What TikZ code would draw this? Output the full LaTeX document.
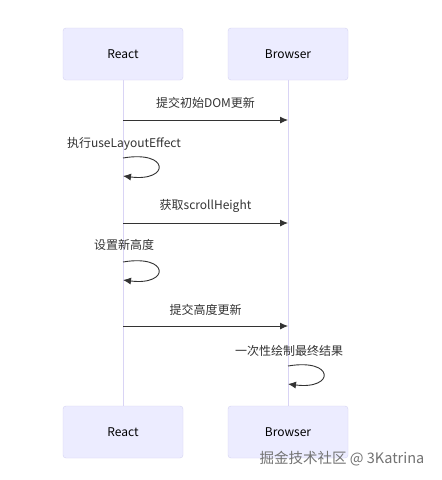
\documentclass[tikz,border=0pt]{standalone}
\usepackage{fontspec}
\setmainfont{Noto Sans CJK SC}
\usetikzlibrary{arrows.meta}
\definecolor{actfill}{HTML}{ECECFF}
\definecolor{actline}{HTML}{D6D3F2}
\definecolor{lifeln}{HTML}{D9D4F5}
\definecolor{msgc}{HTML}{333333}
\tikzset{
  actor/.style={draw=actline, fill=actfill, rounded corners=3pt, minimum width=120pt, minimum height=52pt, inner sep=0pt, font=\fontsize{12}{14}\selectfont, text=black},
  msg/.style={draw=msgc, line width=0.9pt, -{Latex[length=8pt,width=7pt]}},
  lbl/.style={font=\fontsize{12}{14}\selectfont, text=msgc, inner sep=0pt},
  life/.style={draw=lifeln, line width=1pt},
}
\begin{document}
\begin{tikzpicture}[x=1pt,y=-1pt]
\fill[white] (0,0) rectangle (442,480);
\useasboundingbox (0,0) rectangle (442,480);
% lifelines
\coordinate (rt) at (123,80);
\coordinate (rb) at (123,406);
\coordinate (bt) at (288,80);
\coordinate (bb) at (288,406);
\draw[life] (rt) -- (rb);
\draw[life] (bt) -- (bb);
% actors
\node[actor] (r1) at (123,54) {React};
\node[actor] (b1) at (288,54) {Browser};
\node[actor] (r2) at (123,432) {React};
\node[actor] (b2) at (288,432) {Browser};
% message 1
\coordinate (m1a) at (123,120);
\coordinate (m1b) at (288,120);
\draw[msg] (m1a) -- (m1b);
\node[lbl] (l1) at (205.5,103) {提交初始DOM更新};
% self loop 1
\coordinate (s1a) at (123,158);
\coordinate (s1b) at (123,176);
\draw[msg] (s1a) .. controls (170,150) and (170,182) .. (s1b);
\node[lbl] (l2) at (124,144) {执行useLayoutEffect};
% message 2
\coordinate (m2a) at (123,223);
\coordinate (m2b) at (288,223);
\draw[msg] (m2a) -- (m2b);
\node[lbl] (l3) at (205.5,206) {获取scrollHeight};
% self loop 2
\coordinate (s2a) at (123,262);
\coordinate (s2b) at (123,280);
\draw[msg] (s2a) .. controls (170,254) and (170,286) .. (s2b);
\node[lbl] (l4) at (124,245) {设置新高度};
% message 3
\coordinate (m3a) at (123,326);
\coordinate (m3b) at (288,326);
\draw[msg] (m3a) -- (m3b);
\node[lbl] (l5) at (205.5,310) {提交高度更新};
% self loop 3
\coordinate (s3a) at (288,366);
\coordinate (s3b) at (288,384);
\draw[msg] (s3a) .. controls (335,358) and (335,390) .. (s3b);
\node[lbl] (l6) at (289,351) {一次性绘制最终结果};
% watermark
\node[font=\fontsize{14.5}{16}\selectfont, text=black!55, inner sep=0pt] (wm) at (342,459) {掘金技术社区 @ 3Katrina};
\end{tikzpicture}
\end{document}
